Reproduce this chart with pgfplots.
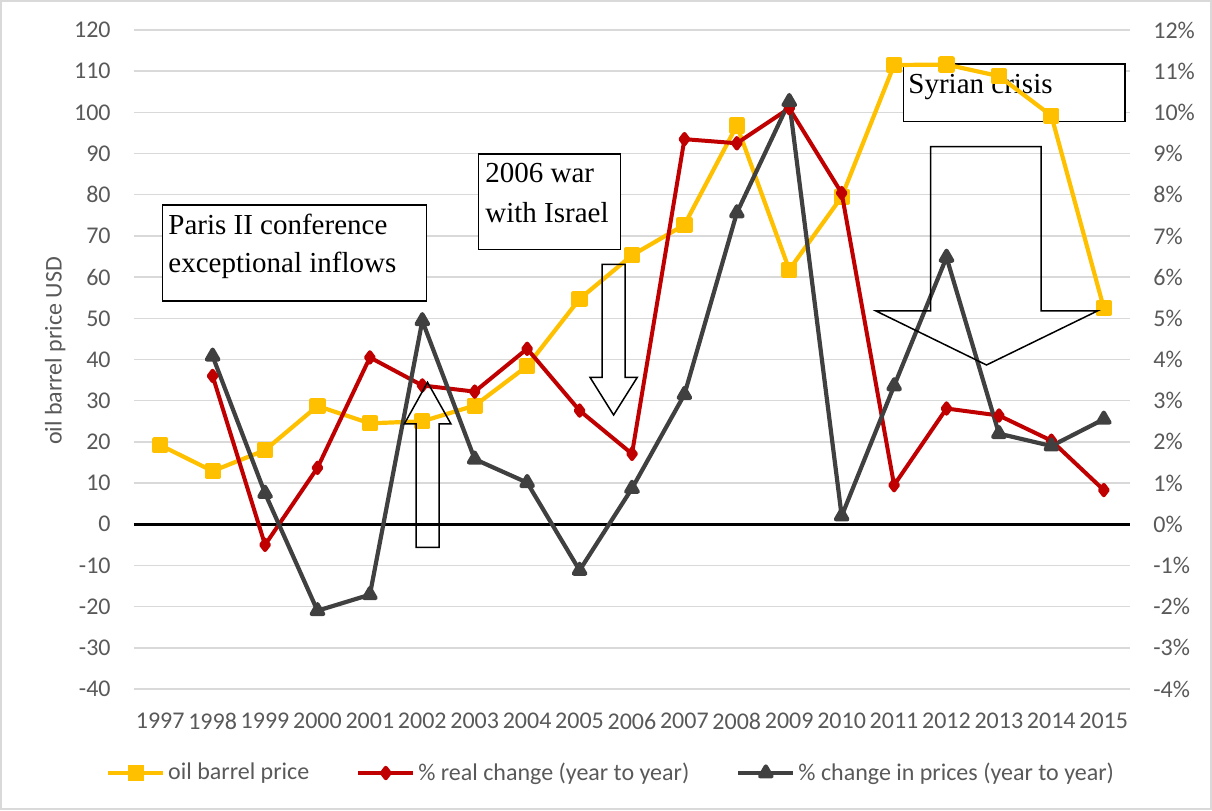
\documentclass[border=0pt]{standalone}
\usepackage{fontspec}
\setmainfont{Carlito}
\newfontfamily\boxfont{Liberation Serif}
\usepackage{pgfplots}
\usepackage{pgfplotstable}
\pgfplotsset{compat=1.18}

\definecolor{oilyellow}{RGB}{255,192,0}
\definecolor{realred}{RGB}{192,0,0}
\definecolor{pricegray}{RGB}{64,64,64}
\definecolor{ticktext}{RGB}{89,89,89}
\definecolor{gridgray}{RGB}{217,217,217}

% oil barrel price, USD
\pgfplotstableread{
year price
1997 19.2
1998 12.9
1999 18.0
2000 28.7
2001 24.5
2002 25.0
2003 28.8
2004 38.4
2005 54.7
2006 65.3
2007 72.7
2008 96.8
2009 61.8
2010 79.5
2011 111.5
2012 111.6
2013 108.8
2014 99.2
2015 52.5
}\oiltable

% % real change, year to year
\pgfplotstableread{
year real
1998 3.60
1999 -0.50
2000 1.37
2001 4.05
2002 3.37
2003 3.22
2004 4.26
2005 2.76
2006 1.71
2007 9.35
2008 9.25
2009 10.10
2010 8.04
2011 0.95
2012 2.81
2013 2.64
2014 2.03
2015 0.83
}\realtable

% % change in prices, year to year
\pgfplotstableread{
year change
1998 4.08
1999 0.75
2000 -2.10
2001 -1.71
2002 4.94
2003 1.58
2004 1.01
2005 -1.12
2006 0.87
2007 3.15
2008 7.56
2009 10.26
2010 0.20
2011 3.36
2012 6.48
2013 2.20
2014 1.90
2015 2.55
}\changetable

\pgfplotsset{
  base/.style={
    scale only axis, width=498pt, height=329.5pt,
    at={(67pt,60.5pt)}, anchor=south west,
    xmin=1996.5, xmax=2015.5,
    xtick={1997,...,2015},
    axis line style={draw=none},
    major tick length=0pt,
    clip=false,
    tick label style={font=\fontsize{12}{14}\selectfont, text=ticktext,
      /pgf/number format/assume math mode=true,
      /pgf/number format/1000 sep={}},
  },
}

\begin{document}
\begin{tikzpicture}
\useasboundingbox (0,0) rectangle (606pt,405pt);

\begin{axis}[base,
    ymin=-40, ymax=120,
    ytick={-40,-30,...,120},
    ymajorgrids,
    grid style={gridgray, line width=0.75pt},
    extra y ticks={0},
    extra y tick labels={},
    extra y tick style={grid style={black, line width=1.5pt}},
    xticklabel style={anchor=north, inner sep=0pt, yshift=-11.75pt},
    yticklabel style={anchor=east, inner sep=0pt, xshift=-11.5pt},
    ylabel={oil barrel price USD},
    ylabel style={at={(axis description cs:-0.0726,0.513)}, anchor=base,
      font=\fontsize{12}{14}\selectfont, text=ticktext},
  ]
  % text boxes, under the series
  \draw[black, line width=0.75pt, fill=white]
    (axis cs:1997.048,77.52) rectangle (axis cs:2002.084,54.21);
  \node[anchor=base west, inner sep=0pt, font=\fontsize{14.5}{17}\boxfont]
    at (axis cs:1997.149,70.4) {Paris II conference};
  \node[anchor=base west, inner sep=0pt, font=\fontsize{14.5}{17}\boxfont]
    at (axis cs:1997.149,61.2) {exceptional inflows};

  \draw[black, line width=0.75pt, fill=white]
    (axis cs:2003.076,89.9) rectangle (axis cs:2005.785,66.76);
  \node[anchor=base west, inner sep=0pt, font=\fontsize{14.5}{17}\boxfont]
    at (axis cs:2003.196,82.86) {2006 war};
  \node[anchor=base west, inner sep=0pt, font=\fontsize{14.5}{17}\boxfont]
    at (axis cs:2003.196,73.3) {with Israel};

  \draw[black, line width=0.75pt, fill=white]
    (axis cs:2011.176,111.77) rectangle (axis cs:2015.404,97.75);
  \node[anchor=base west, inner sep=0pt, font=\fontsize{14.5}{17}\boxfont]
    at (axis cs:2011.266,104.64) {Syrian crisis};

  \addplot[oilyellow, line width=2.1pt, line join=round,
    mark=square*, mark size=3pt, mark options={solid}]
    table[x=year, y=price] {\oiltable};
\end{axis}

\begin{axis}[base,
    ymin=-4, ymax=12,
    ytick={-4,...,12},
    yticklabel pos=right,
    yticklabel={\pgfmathprintnumber{\tick}\%},
    yticklabel style={anchor=west, inner sep=0pt, xshift=11.5pt},
    hide x axis,
    legend columns=3,
    legend cell align=left,
    legend style={at={(axis description cs:0.4794,-0.1275)}, anchor=center,
      draw=none, fill=none, font=\fontsize{12}{14}\selectfont, text=ticktext,
      nodes={inner sep=1.5pt},
      /tikz/every even column/.append style={column sep=22pt}},
    legend image code/.code={
      \draw[mark repeat=2, mark phase=2, #1]
        plot coordinates {(0pt,0pt) (13.75pt,0pt) (27.5pt,0pt)};},
  ]
  \addlegendimage{oilyellow, line width=2.1pt, mark=square*, mark size=3pt}
  \addlegendentry{oil barrel price}

  \addplot[realred, line width=2pt, line join=round,
    mark=diamond*, mark size=2.6pt, mark options={solid}]
    table[x=year, y=real] {\realtable};
  \addlegendentry{\% real change (year to year)}

  \addplot[pricegray, line width=2.1pt, line join=round,
    mark=triangle*, mark size=3.3pt, mark options={solid}]
    table[x=year, y=change] {\changetable};
  \addlegendentry{\% change in prices (year to year)}
\end{axis}

% block arrows, coordinates in pixels of the 1212x810 sheet
\begin{scope}[yshift=405pt, x=0.5pt, y=-0.5pt, line width=0.75pt]
  \draw (416,547.3) -- (416,424) -- (404.3,424) -- (427.5,382.3)
    -- (451,424) -- (439,424) -- (439,547.3) -- cycle;
  \draw (602,264.3) -- (602,377.3) -- (590,377.3) -- (613.6,415)
    -- (637.3,377.3) -- (625,377.3) -- (625,264.3) -- cycle;
  \draw (930.7,146.7) -- (930.7,311) -- (876,311) -- (986.5,365)
    -- (1097.3,311) -- (1041,311) -- (1041,146.7) -- cycle;
\end{scope}

\draw[gridgray, line width=1pt] (0.5pt,0.5pt) rectangle (605.5pt,404.5pt);
\end{tikzpicture}
\end{document}
